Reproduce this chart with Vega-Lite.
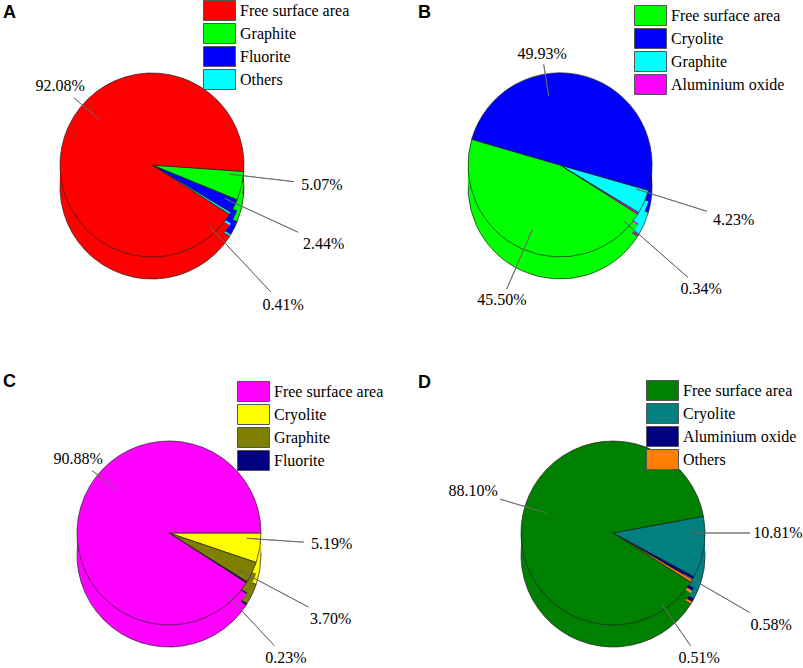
{
  "$schema": "https://vega.github.io/schema/vega-lite/v6.json",
  "padding": 0,
  "columns": 2,
  "bounds": "flush",
  "align": "all",
  "spacing": {"column": 106, "row": 102},
  "config": {
    "view": {"stroke": null},
    "title": {"font": "Liberation Sans, Arial, sans-serif", "fontSize": 18, "fontWeight": "bold", "color": "#000", "anchor": "start", "frame": "group"},
    "text": {"font": "Liberation Serif, Times New Roman, serif", "fontSize": 16, "color": "#000", "align": "center", "baseline": "middle"},
    "legend": {
      "title": null,
      "symbolType": "M-1.6,-1H1.6V1H-1.6Z",
      "symbolSize": 400,
      "symbolStrokeColor": "#555",
      "symbolStrokeWidth": 1,
      "labelFont": "Liberation Serif, Times New Roman, serif",
      "labelFontSize": 16,
      "labelColor": "#000",
      "labelOffset": 10,
      "labelLimit": 300,
      "rowPadding": -4,
      "padding": 0
    }
  },
  "resolve": {"scale": {"color": "independent", "theta": "independent"}},
  "concat": [
    {
      "width": 338,
      "height": 266,
      "title": {"text": "A", "dx": 3, "offset": -22},
      "data": {"values": [
        {"name": "Graphite", "share": 0.0507, "k": 1},
        {"name": "Fluorite", "share": 0.0244, "k": 2},
        {"name": "Others", "share": 0.0041, "k": 3},
        {"name": "Free surface area", "share": 0.9208, "k": 4}
      ]},
      "transform": [{"stack": "share", "groupby": [], "sort": [{"field": "k", "order": "ascending"}], "as": ["s0", "s1"]}],
      "encoding": {
        "theta": {"field": "share", "type": "quantitative", "stack": true, "scale": {"range": [1.6406, 7.9238]}},
        "order": {"field": "k", "type": "quantitative"},
        "color": {
          "field": "name", "type": "nominal",
          "scale": {"domain": ["Free surface area", "Graphite", "Fluorite", "Others"], "range": ["#ff0000", "#00ff00", "#0000ff", "#00ffff"]},
          "legend": {"orient": "none", "legendX": 209, "legendY": -32, "title": null}
        }
      },
      "layer": [
        {"mark": {"type": "arc", "radius": 92, "xOffset": -17, "yOffset": 22, "stroke": "#222", "strokeWidth": 0.7}},
        {"mark": {"type": "arc", "radius": 92, "xOffset": -17, "yOffset": 11, "strokeWidth": 0}},
        {"mark": {"type": "arc", "radius": 92, "xOffset": -17, "stroke": "#222", "strokeWidth": 0.7}},
        {"transform": [{"filter": "datum.name === 'Free surface area'"}],
         "mark": {"type": "arc", "filled": false, "strokeWidth": 0.8, "xOffset": -17, "radius": 103, "radius2": 70, "thetaOffset": 3.2845, "theta2Offset": 3.2845},
         "encoding": {"theta": {"field": "s0", "type": "quantitative", "stack": null}, "theta2": {"field": "s0"}, "color": {"value": "#666"}}},
        {"transform": [{"filter": "datum.name === 'Graphite'"}],
         "mark": {"type": "arc", "filled": false, "strokeWidth": 0.8, "xOffset": -17, "radius": 143, "radius2": 78, "thetaOffset": 0.0471, "theta2Offset": 0.0471},
         "encoding": {"theta": {"field": "s0", "type": "quantitative", "stack": null}, "theta2": {"field": "s0"}, "color": {"value": "#666"}}},
        {"transform": [{"filter": "datum.name === 'Fluorite'"}],
         "mark": {"type": "arc", "filled": false, "strokeWidth": 0.8, "xOffset": -17, "radius": 161, "radius2": 80, "thetaOffset": 0.0428, "theta2Offset": 0.0428},
         "encoding": {"theta": {"field": "s0", "type": "quantitative", "stack": null}, "theta2": {"field": "s0"}, "color": {"value": "#666"}}},
        {"transform": [{"filter": "datum.name === 'Others'"}],
         "mark": {"type": "arc", "filled": false, "strokeWidth": 0.8, "xOffset": -17, "radius": 174, "radius2": 85, "thetaOffset": 0.2768, "theta2Offset": 0.2768},
         "encoding": {"theta": {"field": "s0", "type": "quantitative", "stack": null}, "theta2": {"field": "s0"}, "color": {"value": "#666"}}},
        {"transform": [{"filter": "datum.name === 'Free surface area'"}],
         "mark": {"type": "text", "xOffset": -17, "radius": 121, "thetaOffset": 3.2845},
         "encoding": {"theta": {"field": "s0", "type": "quantitative", "stack": null}, "text": {"field": "share", "type": "quantitative", "format": ".2%"}, "color": {"value": "#000"}}},
        {"transform": [{"filter": "datum.name === 'Graphite'"}],
         "mark": {"type": "text", "xOffset": -17, "radius": 171, "thetaOffset": 0.0471},
         "encoding": {"theta": {"field": "s0", "type": "quantitative", "stack": null}, "text": {"field": "share", "type": "quantitative", "format": ".2%"}, "color": {"value": "#000"}}},
        {"transform": [{"filter": "datum.name === 'Fluorite'"}],
         "mark": {"type": "text", "xOffset": -17, "radius": 189, "thetaOffset": 0.0428},
         "encoding": {"theta": {"field": "s0", "type": "quantitative", "stack": null}, "text": {"field": "share", "type": "quantitative", "format": ".2%"}, "color": {"value": "#000"}}},
        {"transform": [{"filter": "datum.name === 'Others'"}],
         "mark": {"type": "text", "xOffset": -17, "radius": 192, "thetaOffset": 0.2768},
         "encoding": {"theta": {"field": "s0", "type": "quantitative", "stack": null}, "text": {"field": "share", "type": "quantitative", "format": ".2%"}, "color": {"value": "#000"}}}
      ]
    },
    {
      "width": 338,
      "height": 266,
      "title": {"text": "B", "dx": -26, "offset": -17},
      "data": {"values": [
        {"name": "Graphite", "share": 0.0423, "k": 1},
        {"name": "Aluminium oxide", "share": 0.0034, "k": 2},
        {"name": "Free surface area", "share": 0.455, "k": 3},
        {"name": "Cryolite", "share": 0.4993, "k": 4}
      ]},
      "transform": [{"stack": "share", "groupby": [], "sort": [{"field": "k", "order": "ascending"}], "as": ["s0", "s1"]}],
      "encoding": {
        "theta": {"field": "share", "type": "quantitative", "stack": true, "scale": {"range": [1.85, 8.1332]}},
        "order": {"field": "k", "type": "quantitative"},
        "color": {
          "field": "name", "type": "nominal",
          "scale": {"domain": ["Free surface area", "Cryolite", "Graphite", "Aluminium oxide"], "range": ["#00ff00", "#0000ff", "#00ffff", "#ff00ff"]},
          "legend": {"orient": "none", "legendX": 196, "legendY": -27, "title": null}
        }
      },
      "layer": [
        {"mark": {"type": "arc", "radius": 92, "xOffset": -53, "yOffset": 22, "stroke": "#222", "strokeWidth": 0.7}},
        {"mark": {"type": "arc", "radius": 92, "xOffset": -53, "yOffset": 11, "strokeWidth": 0}},
        {"mark": {"type": "arc", "radius": 92, "xOffset": -53, "stroke": "#222", "strokeWidth": 0.7}},
        {"transform": [{"filter": "datum.name === 'Cryolite'"}],
         "mark": {"type": "arc", "filled": false, "strokeWidth": 0.8, "xOffset": -53, "radius": 102, "radius2": 70, "thetaOffset": 1.1266, "theta2Offset": 1.1266},
         "encoding": {"theta": {"field": "s0", "type": "quantitative", "stack": null}, "theta2": {"field": "s0"}, "color": {"value": "#666"}}},
        {"transform": [{"filter": "datum.name === 'Free surface area'"}],
         "mark": {"type": "arc", "filled": false, "strokeWidth": 0.8, "xOffset": -53, "radius": 135, "radius2": 70, "thetaOffset": 1.4102, "theta2Offset": 1.4102},
         "encoding": {"theta": {"field": "s0", "type": "quantitative", "stack": null}, "theta2": {"field": "s0"}, "color": {"value": "#666"}}},
        {"transform": [{"filter": "datum.name === 'Graphite'"}],
         "mark": {"type": "arc", "filled": false, "strokeWidth": 0.8, "xOffset": -53, "radius": 154, "radius2": 80, "thetaOffset": 0.0262, "theta2Offset": 0.0262},
         "encoding": {"theta": {"field": "s0", "type": "quantitative", "stack": null}, "theta2": {"field": "s0"}, "color": {"value": "#666"}}},
        {"transform": [{"filter": "datum.name === 'Aluminium oxide'"}],
         "mark": {"type": "arc", "filled": false, "strokeWidth": 0.8, "xOffset": -53, "radius": 170, "radius2": 85, "thetaOffset": 0.1758, "theta2Offset": 0.1758},
         "encoding": {"theta": {"field": "s0", "type": "quantitative", "stack": null}, "theta2": {"field": "s0"}, "color": {"value": "#666"}}},
        {"transform": [{"filter": "datum.name === 'Cryolite'"}],
         "mark": {"type": "text", "xOffset": -53, "radius": 112, "thetaOffset": 1.1266},
         "encoding": {"theta": {"field": "s0", "type": "quantitative", "stack": null}, "text": {"field": "share", "type": "quantitative", "format": ".2%"}, "color": {"value": "#000"}}},
        {"transform": [{"filter": "datum.name === 'Free surface area'"}],
         "mark": {"type": "text", "xOffset": -53, "radius": 147, "thetaOffset": 1.4102},
         "encoding": {"theta": {"field": "s0", "type": "quantitative", "stack": null}, "text": {"field": "share", "type": "quantitative", "format": ".2%"}, "color": {"value": "#000"}}},
        {"transform": [{"filter": "datum.name === 'Graphite'"}],
         "mark": {"type": "text", "xOffset": -53, "radius": 182, "thetaOffset": 0.0262},
         "encoding": {"theta": {"field": "s0", "type": "quantitative", "stack": null}, "text": {"field": "share", "type": "quantitative", "format": ".2%"}, "color": {"value": "#000"}}},
        {"transform": [{"filter": "datum.name === 'Aluminium oxide'"}],
         "mark": {"type": "text", "xOffset": -53, "radius": 188, "thetaOffset": 0.1758},
         "encoding": {"theta": {"field": "s0", "type": "quantitative", "stack": null}, "text": {"field": "share", "type": "quantitative", "format": ".2%"}, "color": {"value": "#000"}}}
      ]
    },
    {
      "width": 338,
      "height": 266,
      "title": {"text": "C", "dx": 3, "offset": -10},
      "data": {"values": [
        {"name": "Cryolite", "share": 0.0519, "k": 1},
        {"name": "Graphite", "share": 0.037, "k": 2},
        {"name": "Fluorite", "share": 0.0023, "k": 3},
        {"name": "Free surface area", "share": 0.9088, "k": 4}
      ]},
      "transform": [{"stack": "share", "groupby": [], "sort": [{"field": "k", "order": "ascending"}], "as": ["s0", "s1"]}],
      "encoding": {
        "theta": {"field": "share", "type": "quantitative", "stack": true, "scale": {"range": [1.5708, 7.854]}},
        "order": {"field": "k", "type": "quantitative"},
        "color": {
          "field": "name", "type": "nominal",
          "scale": {"domain": ["Free surface area", "Cryolite", "Graphite", "Fluorite"], "range": ["#ff00ff", "#ffff00", "#808000", "#000080"]},
          "legend": {"orient": "none", "legendX": 243, "legendY": -19, "title": null}
        }
      },
      "layer": [
        {"mark": {"type": "arc", "radius": 92, "yOffset": 22, "stroke": "#222", "strokeWidth": 0.7}},
        {"mark": {"type": "arc", "radius": 92, "yOffset": 11, "strokeWidth": 0}},
        {"mark": {"type": "arc", "radius": 92, "stroke": "#222", "strokeWidth": 0.7}},
        {"transform": [{"filter": "datum.name === 'Free surface area'"}],
         "mark": {"type": "arc", "filled": false, "strokeWidth": 0.8, "radius": 99, "radius2": 70, "thetaOffset": 3.251, "theta2Offset": 3.251},
         "encoding": {"theta": {"field": "s0", "type": "quantitative", "stack": null}, "theta2": {"field": "s0"}, "color": {"value": "#666"}}},
        {"transform": [{"filter": "datum.name === 'Cryolite'"}],
         "mark": {"type": "arc", "filled": false, "strokeWidth": 0.8, "radius": 135, "radius2": 78, "thetaOffset": 0.0681, "theta2Offset": 0.0681},
         "encoding": {"theta": {"field": "s0", "type": "quantitative", "stack": null}, "theta2": {"field": "s0"}, "color": {"value": "#666"}}},
        {"transform": [{"filter": "datum.name === 'Graphite'"}],
         "mark": {"type": "arc", "filled": false, "strokeWidth": 0.8, "radius": 158, "radius2": 80, "thetaOffset": 0.162, "theta2Offset": 0.162},
         "encoding": {"theta": {"field": "s0", "type": "quantitative", "stack": null}, "theta2": {"field": "s0"}, "color": {"value": "#666"}}},
        {"transform": [{"filter": "datum.name === 'Fluorite'"}],
         "mark": {"type": "arc", "filled": false, "strokeWidth": 0.8, "radius": 154, "radius2": 85, "thetaOffset": 0.2601, "theta2Offset": 0.2601},
         "encoding": {"theta": {"field": "s0", "type": "quantitative", "stack": null}, "theta2": {"field": "s0"}, "color": {"value": "#666"}}},
        {"transform": [{"filter": "datum.name === 'Free surface area'"}],
         "mark": {"type": "text", "radius": 117, "thetaOffset": 3.251},
         "encoding": {"theta": {"field": "s0", "type": "quantitative", "stack": null}, "text": {"field": "share", "type": "quantitative", "format": ".2%"}, "color": {"value": "#000"}}},
        {"transform": [{"filter": "datum.name === 'Cryolite'"}],
         "mark": {"type": "text", "radius": 163, "thetaOffset": 0.0681},
         "encoding": {"theta": {"field": "s0", "type": "quantitative", "stack": null}, "text": {"field": "share", "type": "quantitative", "format": ".2%"}, "color": {"value": "#000"}}},
        {"transform": [{"filter": "datum.name === 'Graphite'"}],
         "mark": {"type": "text", "radius": 183, "thetaOffset": 0.162},
         "encoding": {"theta": {"field": "s0", "type": "quantitative", "stack": null}, "text": {"field": "share", "type": "quantitative", "format": ".2%"}, "color": {"value": "#000"}}},
        {"transform": [{"filter": "datum.name === 'Fluorite'"}],
         "mark": {"type": "text", "radius": 171, "thetaOffset": 0.2601},
         "encoding": {"theta": {"field": "s0", "type": "quantitative", "stack": null}, "text": {"field": "share", "type": "quantitative", "format": ".2%"}, "color": {"value": "#000"}}}
      ]
    },
    {
      "width": 338,
      "height": 266,
      "title": {"text": "D", "dx": -26, "offset": -12},
      "data": {"values": [
        {"name": "Cryolite", "share": 0.1081, "k": 1},
        {"name": "Aluminium oxide", "share": 0.0058, "k": 2},
        {"name": "Others", "share": 0.0051, "k": 3},
        {"name": "Free surface area", "share": 0.881, "k": 4}
      ]},
      "transform": [{"stack": "share", "groupby": [], "sort": [{"field": "k", "order": "ascending"}], "as": ["s0", "s1"]}],
      "encoding": {
        "theta": {"field": "share", "type": "quantitative", "stack": true, "scale": {"range": [1.3875, 7.6707]}},
        "order": {"field": "k", "type": "quantitative"},
        "color": {
          "field": "name", "type": "nominal",
          "scale": {"domain": ["Free surface area", "Cryolite", "Aluminium oxide", "Others"], "range": ["#008000", "#008080", "#000080", "#ff8000"]},
          "legend": {"orient": "none", "legendX": 208, "legendY": -20, "title": null}
        }
      },
      "layer": [
        {"mark": {"type": "arc", "radius": 92, "yOffset": 22, "stroke": "#222", "strokeWidth": 0.7}},
        {"mark": {"type": "arc", "radius": 92, "yOffset": 11, "strokeWidth": 0}},
        {"mark": {"type": "arc", "radius": 92, "stroke": "#222", "strokeWidth": 0.7}},
        {"transform": [{"filter": "datum.name === 'Free surface area'"}],
         "mark": {"type": "arc", "filled": false, "strokeWidth": 0.8, "radius": 118, "radius2": 70, "thetaOffset": 2.8686, "theta2Offset": 2.8686},
         "encoding": {"theta": {"field": "s0", "type": "quantitative", "stack": null}, "theta2": {"field": "s0"}, "color": {"value": "#666"}}},
        {"transform": [{"filter": "datum.name === 'Cryolite'"}],
         "mark": {"type": "arc", "filled": false, "strokeWidth": 0.8, "radius": 137, "radius2": 78, "thetaOffset": 0.1833, "theta2Offset": 0.1833},
         "encoding": {"theta": {"field": "s0", "type": "quantitative", "stack": null}, "theta2": {"field": "s0"}, "color": {"value": "#666"}}},
        {"transform": [{"filter": "datum.name === 'Aluminium oxide'"}],
         "mark": {"type": "arc", "filled": false, "strokeWidth": 0.8, "radius": 158, "radius2": 82, "thetaOffset": 0.0311, "theta2Offset": 0.0311},
         "encoding": {"theta": {"field": "s0", "type": "quantitative", "stack": null}, "theta2": {"field": "s0"}, "color": {"value": "#666"}}},
        {"transform": [{"filter": "datum.name === 'Others'"}],
         "mark": {"type": "arc", "filled": false, "strokeWidth": 0.8, "radius": 137, "radius2": 85, "thetaOffset": 0.4363, "theta2Offset": 0.4363},
         "encoding": {"theta": {"field": "s0", "type": "quantitative", "stack": null}, "theta2": {"field": "s0"}, "color": {"value": "#666"}}},
        {"transform": [{"filter": "datum.name === 'Free surface area'"}],
         "mark": {"type": "text", "radius": 146, "thetaOffset": 2.8686},
         "encoding": {"theta": {"field": "s0", "type": "quantitative", "stack": null}, "text": {"field": "share", "type": "quantitative", "format": ".2%"}, "color": {"value": "#000"}}},
        {"transform": [{"filter": "datum.name === 'Cryolite'"}],
         "mark": {"type": "text", "radius": 165, "thetaOffset": 0.1833},
         "encoding": {"theta": {"field": "s0", "type": "quantitative", "stack": null}, "text": {"field": "share", "type": "quantitative", "format": ".2%"}, "color": {"value": "#000"}}},
        {"transform": [{"filter": "datum.name === 'Aluminium oxide'"}],
         "mark": {"type": "text", "radius": 183, "thetaOffset": 0.0311},
         "encoding": {"theta": {"field": "s0", "type": "quantitative", "stack": null}, "text": {"field": "share", "type": "quantitative", "format": ".2%"}, "color": {"value": "#000"}}},
        {"transform": [{"filter": "datum.name === 'Others'"}],
         "mark": {"type": "text", "radius": 152, "thetaOffset": 0.4363},
         "encoding": {"theta": {"field": "s0", "type": "quantitative", "stack": null}, "text": {"field": "share", "type": "quantitative", "format": ".2%"}, "color": {"value": "#000"}}}
      ]
    }
  ]
}
